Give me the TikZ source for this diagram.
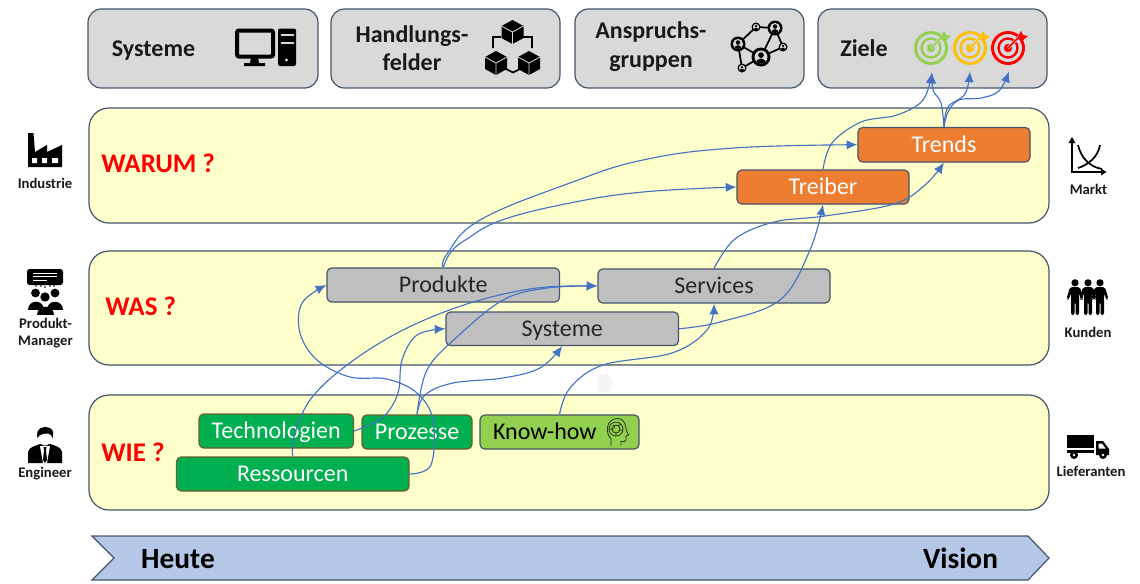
\documentclass[tikz,border=0pt]{standalone}
\usepackage{fontspec}
\setmainfont{Carlito}
\usetikzlibrary{arrows.meta}
\definecolor{bandfill}{HTML}{FFFFCC}
\definecolor{edgeblue}{HTML}{44546A}
\definecolor{topgrey}{HTML}{D9D9D9}
\definecolor{midgrey}{HTML}{BFBFBF}
\definecolor{orng}{HTML}{ED7D31}
\definecolor{grn}{HTML}{00B050}
\definecolor{lgrn}{HTML}{92D050}
\definecolor{conblue}{HTML}{4472C4}
\definecolor{arrowfill}{HTML}{B4C7E7}
\definecolor{grnedge}{HTML}{6B5F2E}
\definecolor{amber}{HTML}{FFC000}
\newcommand\fs[1]{\fontsize{#1}{#1}\selectfont}
\tikzset{
 x=0.75pt,y=-0.75pt,
 topbox/.style={draw=edgeblue,fill=topgrey,line width=.9pt,rounded corners=10pt},
 band/.style={draw=edgeblue,fill=bandfill,line width=.9pt,rounded corners=15pt},
 mbox/.style={draw=edgeblue,line width=.9pt,rounded corners=3.5pt,inner sep=0pt,font=\fs{18},text height=12.5pt,text depth=1.5pt},
 greybox/.style={mbox,fill=midgrey,text=black!85},
 orangebox/.style={mbox,fill=orng,text=white},
 greenbox/.style={mbox,fill=grn,text=white,draw=grnedge},
 lgreenbox/.style={mbox,fill=lgrn,text=black},
 conn/.style={draw=conblue,line width=.85pt,-{Latex[length=8pt,width=7pt]}},
 toplabel/.style={inner sep=0pt,font=\fs{18}\bfseries,align=center,text=black!90},
 why/.style={inner sep=0pt,anchor=west,font=\fs{20.2}\bfseries,text=red},
 side/.style={inner sep=0pt,font=\fs{11}\bfseries,align=center,text=black!90},
 barlabel/.style={inner sep=0pt,font=\fs{22}\bfseries,text=black},
}
\newcommand\bx[7]{\node[#6,minimum width={(#4-#2)*0.75pt},minimum height={(#5-#3)*0.75pt}] (#1) at ({(#2+#4)/2},{(#3+#5)/2}) {#7};}
% cube icon centred x,y
\newcommand\cube[2]{\begin{scope}[shift={(#1,#2)}]
 \fill[black] (0,-12)--(11,-6)--(11,6)--(0,12)--(-11,6)--(-11,-6)--cycle;
 \draw[topgrey,line width=.6pt] (-11,-6)--(0,0)--(11,-6) (0,0)--(0,12);
\end{scope}}
% target icon
\newcommand\target[3]{\begin{scope}[shift={(#1,#2)}]
 \draw[#3,line width=2.2pt] (0,0) circle (15.5);
 \draw[#3,line width=1.8pt] (0,0) circle (9.5);
 \fill[#3] (0,0) circle (4.2);
 \draw[topgrey,line width=2.2pt] (0,0)--(15,-15);
 \draw[#3,line width=1.2pt] (0,0)--(13,-13);
 \fill[#3] (9,-10)--(13,-17)--(15,-13)--(20,-12)--(14,-7)--cycle;
\end{scope}}
% network person
\newcommand\netp[3]{\begin{scope}[shift={(#1,#2)}]
 \fill[black] (0,0) circle (#3);
 \fill[topgrey] (0,0) circle ({#3*.68});
 \begin{scope}
 \clip (0,0) circle ({#3*.68});
 \fill[black] (0,{-#3*.2}) circle ({#3*.3});
 \fill[black] (0,{#3*.75}) ellipse ({#3*.55} and {#3*.6});
 \end{scope}
\end{scope}}
% standing person
\newcommand\stand[2]{\begin{scope}[shift={(#1,#2)}]
 \fill[black] (0,-4.2) circle (3.6);
 \fill[black,rounded corners=1.5pt] (-5,0)--(5,0)--(8.5,12)--(6.5,13)--(4,6)--(4,28)--(.5,28)--(.5,15)--(-.5,15)--(-.5,28)--(-4,28)--(-4,6)--(-6.5,13)--(-8.5,12)--cycle;
\end{scope}}
% audience person
\newcommand\aud[3]{\begin{scope}[shift={(#1,#2)}]
 \fill[black] (0,0) circle ({#3*.55});
 \fill[black] ({-#3},{#3*2.1}) .. controls ({-#3},{#3*.8}) and ({#3},{#3*.8}) .. ({#3},{#3*2.1}) -- cycle;
\end{scope}}
\begin{document}
\begin{tikzpicture}
\useasboundingbox (0,0) rectangle (1140,583);
\fill[white] (0,0) rectangle (1140,583);
% top boxes
\draw[topbox] (88,9) rectangle (318,88);
\draw[topbox] (331,9) rectangle (560,88);
\draw[topbox] (575,9) rectangle (804,88);
\draw[topbox] (818,9) rectangle (1047,88);
\node[toplabel] (tl1) at (153.5,50.5) {Systeme};
\node[toplabel] (tl2) at (412,48) {Handlungs-\\[3.5pt]felder};
\node[toplabel] (tl3) at (651,46.5) {Anspruchs-\\[3.5pt]gruppen};
\node[toplabel] (tl4) at (864,48) {Ziele};
% bands
\draw[band] (89,108) rectangle (1049,223);
\draw[band] (89,251) rectangle (1049,365);
\draw[band] (89,395) rectangle (1049,510);
\node[why] (w1) at (101,163) {WARUM ?};
\node[why] (w2) at (105,306) {WAS ?};
\node[why] (w3) at (101,452) {WIE ?};
% faint head in the gap
\fill[black!4] (598,392) -- (598,385) .. controls (594,372) and (608,370) .. (612,380) -- (613,385) -- (610,386) -- (609,392) -- cycle;
% inner boxes
\bx{trends}{858}{127.5}{1030}{162}{orangebox}{Trends}
\bx{treiber}{737}{170}{909}{204}{orangebox}{Treiber}
\bx{produkte}{327}{268}{559.5}{302}{greybox}{Produkte}
\bx{services}{598}{269}{830}{303}{greybox}{Services}
\bx{systeme}{446}{312}{678.5}{345.5}{greybox}{Systeme}
\bx{techno}{199}{414}{353.5}{448}{greenbox}{Technologien}
\bx{prozesse}{362}{415}{472}{449}{greenbox}{Prozesse}
\bx{ress}{176.5}{457}{409}{491}{greenbox}{Ressourcen}
\node[lgreenbox,minimum width={159*0.75pt},minimum height={34*0.75pt}] (know) at (559.5,432) {\hspace{-22pt}Know-how};
% brain-head icon
\begin{scope}[shift={(617,432)},draw=black!75!lgrn,line width=.6pt]
 \draw (-6,13.5) -- (-6,7) .. controls (-12,1) and (-11,-13) .. (0,-13.5) .. controls (8,-13.5) and (9,-6) .. (9,-3) -- (11.5,3) -- (9,4) -- (9,8) .. controls (9,10) and (6,10) .. (4,9.5) -- (4,13.5);
 \draw (-1,-3) circle (7);
 \draw (-1,-3) circle (4);
 \draw (-8,-3)--(-3,-3) (1,-6)--(4,-8) (-1,1)--(-1,4) (2,-2)--(6,-2) (-4,-7)--(-2,-4);
\end{scope}
% connectors
\draw[conn] plot[smooth,tension=.6] coordinates {(techno.east) (383,417) (398,393) (402,360) (417,335) (systeme.west)};
\draw[conn] plot[smooth,tension=.6] coordinates {(prozesse.north) (427,370) (457,337) (503,300) (547,288) (services.west)};
\draw[conn] plot[smooth,tension=.6] coordinates {(prozesse.north) (425,395) (453,383) (503,378) (540,368) (systeme.south)};
\draw[conn] plot[smooth,tension=.6] coordinates {(ress.north) (294,437) (310,400) (347,365) (403,330) (470,303) (537,288) (services.west)};
\draw[conn] plot[smooth,tension=.6] coordinates {(ress.east) (431,465) (433,420) (417,393) (387,379) (350,377) (317,360) (300,333) (302,303) (produkte.west)};
\draw[conn] plot[smooth,tension=.6] coordinates {(know.north) (570,388) (603,365) (672,353) (707,330) (services.south)};
\draw[conn] plot[smooth,tension=.6] coordinates {(services.north) (735,239) (774,222) (825,216) (894,204) (925,185) (trends.south)};
\draw[conn] plot[smooth,tension=.6] coordinates {(systeme.east) (720,322) (780,300) (810,250) (treiber.south)};
\draw[conn] plot[smooth,tension=.7] coordinates {(produkte.north) (447,254) (480,220) (570,183) (643,160) (734,148) (trends.west)};
\draw[conn] plot[smooth,tension=.7] coordinates {(produkte.north) (451,252) (467,239) (502,220) (570,203) (643,192) (treiber.west)};
\coordinate (g1) at (932,72.5);
\coordinate (g2) at (970,71.5);
\coordinate (g3) at (1009,71.5);
\draw[conn] plot[smooth,tension=.6] coordinates {(treiber.north) (832,143) (861,122) (897,115) (923,100) (g1)};
\draw[conn] plot[smooth,tension=.6] coordinates {(trends.north) (941,103) (933,90) (g1)};
\draw[conn] plot[smooth,tension=.6] coordinates {(trends.north) (948,107) (965,94) (g2)};
\draw[conn] plot[smooth,tension=.6] coordinates {(trends.north) (948,112) (959,100) (981,98) (999,91) (g3)};
% bottom arrow
\draw[draw=edgeblue,fill=arrowfill,line width=.9pt] (92,536)--(1028,536)--(1049,558)--(1028,580)--(92,580)--(114,558)--cycle;
\node[barlabel] (heute) at (178,559) {Heute};
\node[barlabel] (vision) at (960.5,558) {Vision};
% side labels
\node[side] (s1) at (45,183) {Industrie};
\node[side] (s2) at (45.5,333) {Produkt-\\[2pt]Manager};
\node[side] (s3) at (45,473.5) {Engineer};
\node[side] (s4) at (1088.5,189.5) {Markt};
\node[side] (s5) at (1088,332) {Kunden};
\node[side] (s6) at (1091,471.5) {Lieferanten};
% computer icon
\draw[black,line width=3pt,rounded corners=1.5pt] (237,30.5) rectangle (273,56.5);
\fill[black] (251,57)--(258,57)--(259,63)--(265,63)--(265,66)--(244,66)--(244,63)--(250,63)--cycle;
\fill[black,rounded corners=1.5pt] (278,28.5) rectangle (296,66);
\fill[topgrey] (280.5,34) rectangle (293.5,36);
\fill[topgrey] (280.5,42) rectangle (293.5,44);
\fill[topgrey] (286.5,60) circle (1.7);
% cubes icon
\draw[black,line width=1.3pt] (501,37)--(493,37)--(493,48) (523,37)--(532,37)--(532,48) (504,68)--(513,72.5)--(522,68);
\cube{512.5}{32}
\cube{496}{63}
\cube{529}{63}
% network icon
\draw[black,line width=1.3pt] (738,44)--(756,27)--(775,28)--(761,57)--(742,68)--(738,44) (775,28)--(783,47)--(761,57) (738,44)--(761,57);
\netp{775}{28}{7.5}
\netp{738}{44}{7.5}
\netp{756}{27}{4.5}
\netp{783}{47}{4.5}
\netp{742}{68}{4.5}
\netp{761}{57}{9.5}
% targets
\target{931}{48}{lgrn}
\target{970}{48}{amber}
\target{1008}{48}{red}
% factory
\fill[black] (28,167)--(28,133)--(33.5,133)--(35,152)--(47,145)--(47,152)--(62,145)--(62,167)--cycle;
\fill[white] (32,158) rectangle (37,163) (42,158) rectangle (47,163) (52,158) rectangle (58,163);
% presenter
\fill[black,rounded corners=2pt] (27,269) rectangle (63,285);
\draw[white,line width=.7pt] (33,273)--(57,273) (33,276.5)--(57,276.5) (33,280)--(47,280);
\fill[black] (36,286) circle (.8) (41,286) circle (.8) (45,287) circle (.8) (50,286) circle (.8) (54,286) circle (.8);
\aud{35.5}{293}{8}
\aud{55}{293}{8}
\fill[white] (45,297) circle (5.5);
\aud{45}{297}{8.5}
% engineer
\fill[black] (28,463)--(28,452) .. controls (29,447) and (35,446) .. (40,444) -- (50,444) .. controls (56,446) and (61,447) .. (62,452) -- (62,463) -- cycle;
\fill[white] (45,437) ellipse (7 and 8.5);
\fill[black] (37.5,438) .. controls (35,428) and (44,425) .. (50,428) .. controls (54,430) and (53.5,434) .. (52.5,438) .. controls (51,433) and (47,433) .. (43,434) .. controls (40,434) and (39,436) .. (37.5,438) -- cycle;
\fill[white] (40,446)--(50,446)--(47,463)--(43,463)--cycle;
\fill[black] (43.5,447)--(46.5,447)--(46,450)--(47,460)--(45,463)--(43,460)--(44,450)--cycle;
% chart
\draw[black,line width=1.3pt] (1072,141)--(1072,172)--(1103,172);
\fill[black] (1072,137)--(1075.5,143)--(1068.5,143)--cycle (1106.5,172)--(1101,168.5)--(1101,175.5)--cycle;
\draw[black,line width=1.3pt] (1078,145) .. controls (1081,158) and (1090,167) .. (1102,169);
\draw[black,line width=1.3pt] (1100,145) .. controls (1098,157) and (1088,165) .. (1078,168);
% customers
\stand{1075}{287}
\stand{1100}{287}
\fill[white] (1088,285.5) circle (5);
\stand{1088}{287}
% truck
\fill[black] (1067,435) rectangle (1094,448);
\fill[black] (1067,449.5) rectangle (1094,453);
\fill[black] (1096,441)--(1103,441)--(1109,449)--(1109,455)--(1096,455)--cycle;
\fill[white] (1098.5,443.5)--(1102,443.5)--(1105.5,448.5)--(1098.5,448.5)--cycle;
\fill[black] (1074,455) circle (4) (1103,455) circle (4);
\fill[white] (1074,455) circle (1.3) (1103,455) circle (1.3);
\end{tikzpicture}
\end{document}
